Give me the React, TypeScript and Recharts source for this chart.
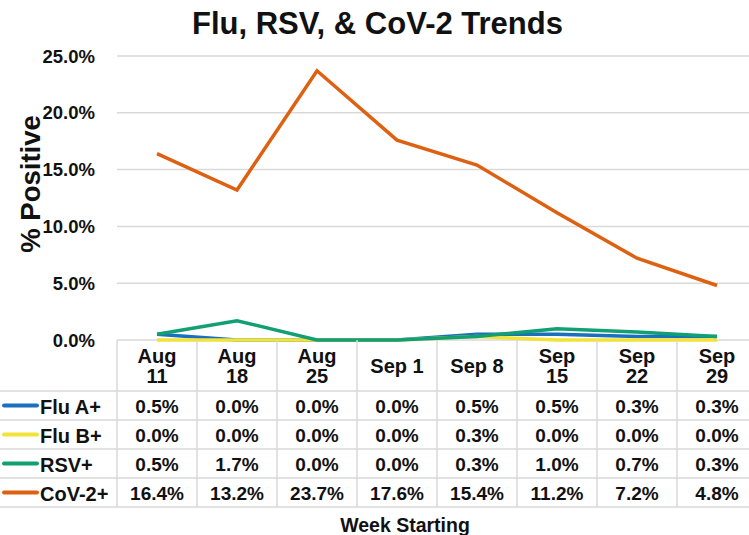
import { LineChart, Line, XAxis, YAxis, CartesianGrid } from 'recharts';

const FONT = '"Liberation Sans", Arial, sans-serif';
const GRID = '#D9D9D9';

// week labels, \n marks where the header cell wraps
const WEEKS = ['Aug\n11', 'Aug\n18', 'Aug\n25', 'Sep 1', 'Sep 8', 'Sep\n15', 'Sep\n22', 'Sep\n29'];

const FLU_A = [0.5, 0.0, 0.0, 0.0, 0.5, 0.5, 0.3, 0.3];
const FLU_B = [0.0, 0.0, 0.0, 0.0, 0.3, 0.0, 0.0, 0.0];
const RSV = [0.5, 1.7, 0.0, 0.0, 0.3, 1.0, 0.7, 0.3];
const COV2 = [16.4, 13.2, 23.7, 17.6, 15.4, 11.2, 7.2, 4.8];

const Y_TICKS = [0, 5, 10, 15, 20, 25];

const SERIES = [
  { key: 'fluA', name: 'Flu A+', color: '#1A6FBE', values: FLU_A },
  { key: 'fluB', name: 'Flu B+', color: '#F1E33A', values: FLU_B },
  { key: 'rsv', name: 'RSV+', color: '#12A072', values: RSV },
  { key: 'cov', name: 'CoV-2+', color: '#DD6110', values: COV2 },
];

const data = WEEKS.map((week, i) => {
  const row: any = { week };
  SERIES.forEach((s) => (row[s.key] = s.values[i]));
  return row;
});

const CHART_W = 757;
const CHART_H = 535;
const PLOT_LEFT = 117;
const COL_W = (CHART_W - PLOT_LEFT) / WEEKS.length;
const HEADER_H = 51;
const ROW_H = 29;

const pct = (v: number) => `${v.toFixed(1)}%`;

// each x tick draws one column of the data table (header + values)
function TableColumn({ x, y, payload }: any) {
  const idx = payload.index;
  const left = x - COL_W / 2;
  const right = x + COL_W / 2;
  const lines = String(payload.value).split('\n');
  const rowsTop = y + HEADER_H;
  const bottom = rowsTop + ROW_H * SERIES.length;
  const textStyle = { fontFamily: FONT, fontWeight: 700, fontSize: 19, fill: '#111' };
  const nameStyle = { ...textStyle, fontSize: 20 };

  return (
    <g>
      <line x1={left} x2={left} y1={y} y2={bottom} stroke={GRID} strokeWidth={1.5} />
      {idx === WEEKS.length - 1 && (
        <line x1={right} x2={right} y1={y} y2={bottom} stroke={GRID} strokeWidth={1.5} />
      )}
      {lines.map((ln, j) => (
        <text
          key={j}
          x={x}
          y={y + HEADER_H / 2 + (j - (lines.length - 1) / 2) * 20}
          textAnchor="middle"
          dominantBaseline="central"
          style={nameStyle}
        >
          {ln}
        </text>
      ))}
      {SERIES.map((s, r) => {
        const top = rowsTop + r * ROW_H;
        return (
          <g key={s.key}>
            <line x1={idx === 0 ? 0 : left} x2={right} y1={top} y2={top} stroke={GRID} strokeWidth={1.5} />
            <text x={x} y={top + ROW_H / 2 + 1} textAnchor="middle" dominantBaseline="central" style={textStyle}>
              {pct(s.values[idx])}
            </text>
            {idx === 0 && (
              <g>
                <line
                  x1={4}
                  x2={37}
                  y1={top + ROW_H / 2}
                  y2={top + ROW_H / 2}
                  stroke={s.color}
                  strokeWidth={4}
                  strokeLinecap="round"
                />
                <text x={40} y={top + ROW_H / 2 + 1} dominantBaseline="central" style={nameStyle}>
                  {s.name}
                </text>
              </g>
            )}
          </g>
        );
      })}
      <line x1={idx === 0 ? 0 : left} x2={right} y1={bottom} y2={bottom} stroke={GRID} strokeWidth={1.5} />
    </g>
  );
}

function YTitle() {
  return (
    <text
      x={30}
      y={184}
      transform="rotate(-90, 30, 184)"
      textAnchor="middle"
      dominantBaseline="central"
      style={{ fontFamily: FONT, fontWeight: 700, fontSize: 27.5, fill: '#111' }}
    >
      % Positive
    </text>
  );
}

export default function App() {
  return (
    <div
      style={{
        position: 'fixed',
        top: 0,
        left: 0,
        width: 749,
        height: CHART_H,
        overflow: 'hidden',
        background: '#fff',
      }}
    >
      <div
        style={{
          position: 'absolute',
          top: 0,
          width: 749,
          textAlign: 'center',
          fontFamily: FONT,
          fontWeight: 700,
          fontSize: 31,
          lineHeight: '48px',
          color: '#111',
          paddingLeft: 6,
          boxSizing: 'border-box',
        }}
      >
        Flu, RSV, &amp; CoV-2 Trends
      </div>
      <LineChart
        width={CHART_W}
        height={CHART_H}
        data={data}
        margin={{ top: 56, right: 0, bottom: 0, left: 0 }}
      >
        <CartesianGrid stroke={GRID} strokeWidth={1.5} vertical={false} />
        <XAxis
          dataKey="week"
          interval={0}
          height={195}
          padding={{ left: COL_W / 2, right: COL_W / 2 }}
          tickLine={false}
          axisLine={false}
          tickSize={0}
          tickMargin={0}
          tick={<TableColumn />}
          label={{
            value: 'Week Starting',
            position: 'insideBottom',
            offset: 3,
            dx: -32,
            style: { fontFamily: FONT, fontWeight: 700, fontSize: 19.5, fill: '#111' },
          }}
        />
        <YAxis
          width={PLOT_LEFT}
          domain={[0, 25]}
          ticks={Y_TICKS}
          tickFormatter={pct}
          tickLine={false}
          axisLine={false}
          tickSize={0}
          tickMargin={22}
          tick={{ fontFamily: FONT, fontWeight: 700, fontSize: 18.5, fill: '#111' }}
          label={<YTitle />}
        />
        {SERIES.map((s) => (
          <Line
            key={s.key}
            dataKey={s.key}
            name={s.name}
            stroke={s.color}
            strokeWidth={3.5}
            dot={false}
            activeDot={false}
            isAnimationActive={false}
          />
        ))}
      </LineChart>
    </div>
  );
}
